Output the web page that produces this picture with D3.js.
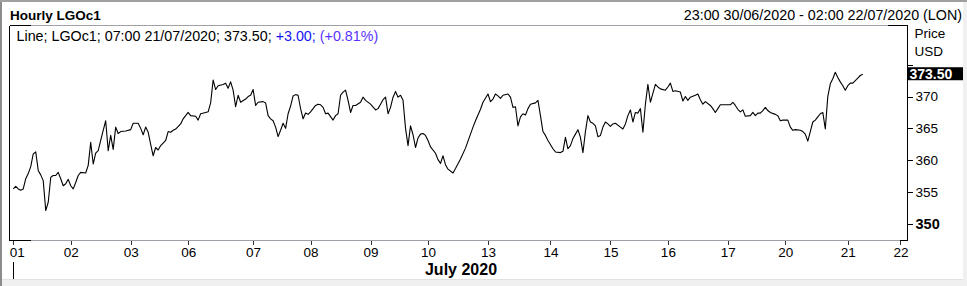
<!DOCTYPE html>
<html><head><meta charset="utf-8">
<script src="https://cdn.jsdelivr.net/npm/d3@7"></script>
<style>
body{margin:0;background:#fff;overflow:hidden}
svg{display:block}
text{font-family:"Liberation Sans",Arial,sans-serif;fill:#000}
</style>
</head><body><svg id="c" width="967" height="286"></svg>
<script>
// ---- data ----
const dayLabels = ["01","02","03","06","07","08","09","10","13","14","15","16","17","20","21","22"];
const dayStartHour = [0,23,47,70,96,119,143,166,190,215,239,262,286,309,334,355];
const monthLabel = "July 2020";
const hourIdx = [0,1,2,3,4,5,6,7,8,9,10,11,12,13,14,15,16,17,18,19,20,21,22,23,24,25,26,27,29,30,31,32,33,34,35,36,37,38,39,40,41,42,43,45,47,48,50,51,52,53,54,55,56,57,58,59,60,61,62,63,64,65,67,68,69,70,71,73,74,75,77,78,79,80,81,82,84,85,86,87,88,89,90,91,93,94,95,96,97,98,100,101,102,103,104,105,106,107,108,109,110,111,112,113,114,115,116,117,118,119,121,122,123,124,125,126,128,129,130,131,132,133,134,135,136,137,139,140,141,143,145,146,147,148,149,150,151,152,153,154,155,156,157,158,159,160,161,162,163,164,165,166,167,169,170,171,172,173,174,176,177,179,181,182,184,185,187,188,190,191,192,193,194,195,196,198,199,200,201,202,203,204,205,206,207,209,210,211,212,213,214,216,217,219,220,221,222,223,224,225,226,227,228,229,230,231,232,233,234,235,236,237,238,239,240,241,243,244,245,246,247,248,249,250,251,252,253,254,255,256,257,258,259,261,262,263,264,265,267,268,269,270,271,273,274,275,276,277,279,280,281,282,283,285,287,288,289,290,291,292,293,295,296,297,298,299,300,301,302,303,305,306,307,308,310,311,312,313,315,316,317,318,319,320,321,322,323,324,325,326,327,328,329,330,331,332,333,334,335,336,337,338,339,340];
const prices = [355.5,355.9,355.5,355.3,355.5,357.1,357.9,359.0,361.0,361.3,358.4,357.7,356.8,352.1,353.4,357.3,357.6,357.6,358.1,357.1,356.0,356.3,357.0,356.0,355.5,356.5,357.6,358.1,358.0,359.2,362.8,359.4,361.1,361.5,363.1,364.7,366.2,361.5,363.9,361.7,365.2,364.2,364.5,364.6,364.8,365.8,365.8,365.0,364.0,365.2,364.4,362.5,360.7,362.0,361.6,362.3,362.7,363.1,364.5,364.4,364.7,364.9,365.7,366.5,367.0,367.5,367.0,366.9,366.3,367.3,367.5,367.6,369.0,372.6,371.1,371.7,371.9,372.1,371.3,372.3,371.0,368.4,370.2,369.1,369.6,370.0,370.2,371.1,368.6,369.1,369.2,369.0,367.0,366.5,366.2,365.2,363.7,364.7,365.8,365.0,367.3,368.5,370.1,370.3,370.2,368.1,366.5,367.4,367.2,367.6,368.6,368.8,368.7,368.3,367.3,367.4,366.3,367.0,367.3,370.2,370.7,371.0,369.4,367.5,368.6,368.6,369.1,369.9,369.4,368.8,367.9,368.1,368.8,369.5,369.9,367.3,368.3,369.9,370.8,369.9,370.2,369.4,365.0,362.3,365.4,364.0,362.0,363.5,364.1,364.2,363.9,363.1,362.1,361.1,360.1,359.5,360.7,359.3,358.6,358.0,358.7,360.2,361.9,363.0,365.2,366.2,368.0,369.1,370.4,369.2,369.6,370.4,370.1,369.7,370.2,370.4,369.9,368.3,368.4,365.4,366.8,367.3,367.1,368.1,368.8,369.0,369.4,367.0,364.5,363.9,363.1,361.8,361.3,361.2,361.4,363.6,361.8,362.3,363.4,364.1,364.8,363.6,361.2,364.5,367.0,366.0,365.8,365.4,363.7,363.9,365.2,366.0,365.7,365.3,365.7,365.8,365.2,364.9,365.7,367.0,367.9,366.0,367.5,367.4,368.1,364.4,368.8,371.9,369.1,370.5,371.9,371.5,371.2,371.0,371.5,372.1,370.8,370.9,370.7,369.3,370.0,369.4,369.9,370.2,370.4,369.5,368.8,369.2,368.6,368.1,367.5,368.1,368.7,368.7,368.7,369.1,368.6,368.0,367.6,367.9,366.9,367.0,367.5,367.0,367.4,367.4,367.8,368.3,367.8,367.5,367.2,367.0,366.2,366.3,366.3,365.2,364.7,364.8,364.7,364.5,364.1,363.0,364.5,366.0,366.3,366.8,367.3,367.5,364.9,370.0,372.0,372.8,373.8,373.0,372.3,371.7,371.0,371.7,372.1,372.1,372.5,372.9,373.3,373.5];
const yTicks = [350,355,360,365,370,375];
const yLabelled = [350,355,360,365,370];
const lastPrice = 373.50;
const titleText = "Hourly LGOc1";
const rangeText = "23:00 30/06/2020 - 02:00 22/07/2020 (LON)";
const infoParts = [["Line; LGOc1; 07:00 21/07/2020; 373.50; ","#000"],["+3.00; ","#1414f0"],["(+0.81%)","#5a32ff"]];
const unitLabels = ["Price","USD"];

// ---- layout ----
const svg = d3.select("#c");
const L = 9.5, R = 907.5, T = 25.5, B = 240.5;
const x = d3.scaleLinear().domain([-1.5, 357.9]).range([L, R]);
const y = d3.scaleLinear().domain([347.4, 381.15]).range([B, T]);

// window chrome
svg.append("rect").attr("width",967).attr("height",286).attr("fill","#fff");
svg.append("rect").attr("x",0).attr("y",279).attr("width",967).attr("height",7).attr("fill","#f0f0f0");
svg.append("line").attr("x1",0).attr("x2",967).attr("y1",279.5).attr("y2",279.5).attr("stroke","#e2e2e2");
svg.append("rect").attr("x",963).attr("y",0).attr("width",4).attr("height",286).attr("fill","#f0f0f0");
svg.append("rect").attr("x",0).attr("y",0).attr("width",2).attr("height",286).attr("fill","#8c8c8c");
svg.append("rect").attr("x",0).attr("y",0).attr("width",967).attr("height",2).attr("fill","#a0a0a0");

// headers
svg.append("text").attr("x",10).attr("y",20).attr("font-size","13.5px").attr("font-weight","bold").text(titleText);
svg.append("text").attr("x",962).attr("y",19.5).attr("text-anchor","end").attr("font-size","14.3px").text(rangeText);
const info = svg.append("text").attr("x",16.5).attr("y",40.5).attr("font-size","14.3px").attr("xml:space","preserve");
infoParts.forEach(p => info.append("tspan").attr("fill",p[1]).style("fill",p[1]).text(p[0]));

// frame
const frame = svg.append("g").attr("shape-rendering","crispEdges");
frame.append("line").attr("x1",L).attr("x2",R).attr("y1",T).attr("y2",T).attr("stroke","#a0a0a8");
frame.append("line").attr("x1",L).attr("x2",R).attr("y1",B).attr("y2",B).attr("stroke","#a0a0a8");
frame.append("line").attr("x1",L).attr("x2",L+21).attr("y1",T).attr("y2",T).attr("stroke","#000");
frame.append("line").attr("x1",L).attr("x2",L+21).attr("y1",B).attr("y2",B).attr("stroke","#000");
frame.append("line").attr("x1",R-20).attr("x2",R).attr("y1",T).attr("y2",T).attr("stroke","#000");
frame.append("line").attr("x1",R-8).attr("x2",R).attr("y1",B).attr("y2",B).attr("stroke","#000");
frame.append("line").attr("x1",L).attr("x2",L).attr("y1",T).attr("y2",B).attr("stroke","#000");

// x axis
const xAxis = d3.axisBottom(x).tickValues(dayStartHour)
  .tickFormat((d,i) => dayLabels[i]).tickSize(4).tickPadding(3);
const gx = svg.append("g").attr("transform",`translate(0,${B})`).call(xAxis);
gx.select(".domain").remove();
gx.selectAll(".tick line").attr("stroke","#333").attr("shape-rendering","crispEdges");
gx.selectAll(".tick text").attr("font-size","13.5px").attr("font-family","Liberation Sans, Arial, sans-serif").attr("fill","#000");
gx.selectAll(".tick text").filter((d,i) => i === 0).attr("text-anchor","start").attr("x",-4);
gx.selectAll(".tick text").filter((d,i) => i === dayLabels.length-1).attr("text-anchor","end").attr("x",R - x(dayStartHour[dayStartHour.length-1]) + 0.5);

svg.append("text").attr("x",461).attr("y",274.5).attr("text-anchor","middle")
  .attr("font-size","16px").attr("font-weight","bold").text(monthLabel);
svg.append("line").attr("x1",x(0)).attr("x2",x(0)).attr("y1",262).attr("y2",279)
  .attr("stroke","#000").attr("shape-rendering","crispEdges");

// y axis
const yAxis = d3.axisRight(y).tickValues(yTicks)
  .tickFormat(d => yLabelled.includes(d) ? d : "").tickSize(5).tickPadding(3);
const gy = svg.append("g").attr("transform",`translate(${R},0)`).call(yAxis);
gy.select(".domain").attr("d",`M0,${T}V${B}`).attr("stroke","#000").attr("shape-rendering","crispEdges");
gy.selectAll(".tick line").attr("stroke","#000").attr("shape-rendering","crispEdges");
gy.selectAll(".tick text").attr("font-size","13.5px").attr("font-family","Liberation Sans, Arial, sans-serif").attr("fill","#000");
gy.selectAll(".tick text").filter(d => d === 350).attr("font-weight","bold").attr("font-size","14.5px");

svg.selectAll(".unit").data(unitLabels).join("text").attr("class","unit")
  .attr("x",914.5).attr("y",(d,i) => 37.5 + i*18.5).attr("font-size","13.5px").text(d => d);

// line
const pts = hourIdx.map((h,i) => [h, prices[i]]);
svg.append("path").datum(pts)
  .attr("d", d3.line().x(d => x(d[0])).y(d => y(d[1])))
  .attr("fill","none").attr("stroke","#000").attr("stroke-width",1.1)
  .attr("stroke-linejoin","round");

// last value box
const ly = y(lastPrice);
svg.append("rect").attr("x",R+0.5).attr("y",ly-7).attr("width",55).attr("height",13).attr("fill","#000");
svg.append("text").attr("x",R+2).attr("y",ly+5).attr("font-size","14px").attr("font-weight","bold")
  .style("fill","#fff").text(lastPrice.toFixed(2));
</script>
</body></html>
